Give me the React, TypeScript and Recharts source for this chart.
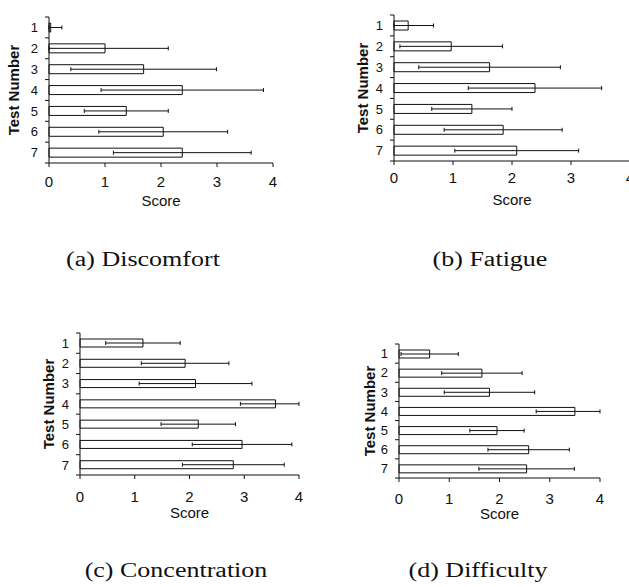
import { BarChart, Bar, XAxis, YAxis, ErrorBar, Label } from "recharts";

// test numbers on the y axis, score ticks on the x axis
const testNumbers = ["1", "2", "3", "4", "5", "6", "7"];
const scoreTicks = [0, 1, 2, 3, 4];
const scoreMax = 4;

// mean score and standard deviation per test
const discomfortMean = [0.03, 1.0, 1.69, 2.38, 1.38, 2.04, 2.38];
const discomfortSd = [0.2, 1.13, 1.3, 1.45, 0.75, 1.15, 1.23];

const fatigueMean = [0.24, 0.97, 1.62, 2.39, 1.32, 1.85, 2.08];
const fatigueSd = [0.43, 0.87, 1.2, 1.13, 0.68, 1.0, 1.05];

const concentrationMean = [1.15, 1.92, 2.11, 3.57, 2.16, 2.96, 2.8];
const concentrationSd = [0.68, 0.8, 1.03, 0.64, 0.68, 0.91, 0.93];

const difficultyMean = [0.61, 1.65, 1.8, 3.5, 1.95, 2.58, 2.54];
const difficultySd = [0.57, 0.8, 0.9, 0.77, 0.54, 0.81, 0.95];

const INK = "#111";

function buildRows(means: number[], sds: number[]) {
  // error bars stop at the ends of the score axis
  return testNumbers.map((name, i) => ({
    name,
    mean: means[i],
    err: [Math.min(sds[i], means[i]), Math.min(sds[i], scoreMax - means[i])],
  }));
}

interface PanelProps {
  caption: string;
  captionX: number;
  captionY: number;
  means: number[];
  sds: number[];
  divLeft: number;
  divTop: number;
  plotLeft: number;
  plotTop: number;
  plotRight: number;
  plotBottom: number;
  barSize: number;
  xTickMargin: number;
  scoreDy: number;
  titleOffset: number;
}

const Y_TICK_GAP = 11;

function Panel(p: PanelProps) {
  const data = buildRows(p.means, p.sds);
  const yAxisWidth = p.plotLeft - p.divLeft;
  const rightMargin = 10;
  const xAxisHeight = 52;
  const width = p.plotRight - p.divLeft + rightMargin;
  const height = p.plotBottom - p.divTop + xAxisHeight + 4;
  const band = (p.plotBottom - p.plotTop) / testNumbers.length;

  const renderYTick = (props: any) => {
    const { x, y, payload, index, visibleTicksCount } = props;
    const axisX = x + Y_TICK_GAP;
    return (
      <g>
        <text x={x} y={y} dy="0.36em" textAnchor="end" fontSize={13} fill={INK}>
          {payload.value}
        </text>
        <line x1={axisX - 4} x2={axisX} y1={y - band / 2} y2={y - band / 2} stroke={INK} />
        {index === visibleTicksCount - 1 && (
          <line x1={axisX - 4} x2={axisX} y1={y + band / 2} y2={y + band / 2} stroke={INK} />
        )}
      </g>
    );
  };

  const renderScoreTitle = (props: any) => {
    const vb = props.viewBox;
    return (
      <text
        x={vb.x + vb.width / 2}
        y={vb.y + p.scoreDy}
        dy="0.36em"
        textAnchor="middle"
        fontSize={15}
        fill={INK}
      >
        Score
      </text>
    );
  };

  const renderTestTitle = (props: any) => {
    const vb = props.viewBox;
    const cx = vb.x + vb.width - p.titleOffset;
    const cy = vb.y + vb.height / 2;
    return (
      <text
        x={cx}
        y={cy}
        dy="0.36em"
        textAnchor="middle"
        fontSize={15}
        fontWeight="bold"
        fill={INK}
        transform={`rotate(-90, ${cx}, ${cy})`}
      >
        Test Number
      </text>
    );
  };

  return (
    <>
      <div style={{ position: "absolute", left: p.divLeft, top: p.divTop }}>
        <BarChart
          layout="vertical"
          width={width}
          height={height}
          data={data}
          margin={{ top: p.plotTop - p.divTop, right: rightMargin, bottom: 4, left: 0 }}
          style={{ fontFamily: "'Liberation Sans', Arial, sans-serif" }}
        >
          <XAxis
            type="number"
            domain={[0, scoreMax]}
            ticks={scoreTicks}
            height={xAxisHeight}
            tickSize={4}
            tickMargin={p.xTickMargin}
            axisLine={{ stroke: INK }}
            tickLine={{ stroke: INK }}
            tick={{ fontSize: 15, fill: INK }}
          >
            <Label content={renderScoreTitle} />
          </XAxis>
          <YAxis
            type="category"
            dataKey="name"
            width={yAxisWidth}
            tickLine={false}
            tickSize={0}
            tickMargin={Y_TICK_GAP}
            axisLine={{ stroke: INK }}
            tick={renderYTick}
            interval={0}
          >
            <Label content={renderTestTitle} />
          </YAxis>
          <Bar
            dataKey="mean"
            fill="#fff"
            stroke={INK}
            strokeWidth={1}
            barSize={p.barSize}
            isAnimationActive={false}
          >
            <ErrorBar dataKey="err" direction="x" width={2} stroke={INK} strokeWidth={1} />
          </Bar>
        </BarChart>
      </div>
      <div
        style={{
          position: "absolute",
          left: p.captionX - 150,
          top: p.captionY - 15,
          width: 300,
          height: 30,
          lineHeight: "30px",
          textAlign: "center",
          fontFamily: "'Liberation Serif', serif",
          fontSize: 20,
          color: INK,
          transform: "scaleX(1.3)",
          whiteSpace: "nowrap",
        }}
      >
        {p.caption}
      </div>
    </>
  );
}

export default function App() {
  return (
    <div
      style={{
        position: "absolute",
        left: 0,
        top: 0,
        width: 629,
        height: 587,
        overflow: "hidden",
        background: "#fff",
      }}
    >
      <Panel
        caption="(a) Discomfort"
        captionX={143}
        captionY={259}
        means={discomfortMean}
        sds={discomfortSd}
        divLeft={0}
        divTop={0}
        plotLeft={49}
        plotTop={17}
        plotRight={273}
        plotBottom={163}
        barSize={9}
        xTickMargin={9}
        scoreDy={38}
        titleOffset={35}
      />
      <Panel
        caption="(b) Fatigue"
        captionX={490}
        captionY={259}
        means={fatigueMean}
        sds={fatigueSd}
        divLeft={330}
        divTop={0}
        plotLeft={394}
        plotTop={15}
        plotRight={630}
        plotBottom={161}
        barSize={9}
        xTickMargin={7}
        scoreDy={39}
        titleOffset={31}
      />
      <Panel
        caption="(c) Concentration"
        captionX={176}
        captionY={570}
        means={concentrationMean}
        sds={concentrationSd}
        divLeft={0}
        divTop={300}
        plotLeft={80}
        plotTop={333}
        plotRight={299}
        plotBottom={475}
        barSize={8}
        xTickMargin={12}
        scoreDy={38}
        titleOffset={31}
      />
      <Panel
        caption="(d) Difficulty"
        captionX={478}
        captionY={570}
        means={difficultyMean}
        sds={difficultySd}
        divLeft={330}
        divTop={300}
        plotLeft={399}
        plotTop={344}
        plotRight={600}
        plotBottom={478}
        barSize={8}
        xTickMargin={11}
        scoreDy={36}
        titleOffset={29}
      />
    </div>
  );
}
